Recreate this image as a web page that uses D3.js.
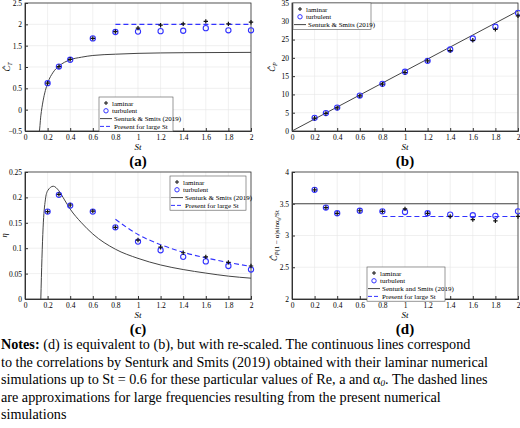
<!DOCTYPE html>
<html><head><meta charset="utf-8">
<script src="https://cdn.jsdelivr.net/npm/d3@7"></script>
<style>body{margin:0;background:#fff}svg text{font-family:"Liberation Serif","DejaVu Serif","Times New Roman",Times,serif}</style>
</head><body>
<svg id="c" width="520" height="428" font-family="Liberation Serif, DejaVu Serif, serif"></svg>
<script>
const St = [0.2,0.3,0.4,0.6,0.8,1.0,1.2,1.4,1.6,1.8,2.0];
const ctLam = [0.62,1.01,1.18,1.67,1.83,1.91,1.98,2.01,2.07,2.01,2.05];
const ctTurb = [0.62,1.01,1.17,1.67,1.82,1.83,1.84,1.85,1.91,1.86,1.86];
const ctSS = [[0.118,-0.5],[0.125,-0.52],[0.14,-0.145],[0.16,0.206],[0.18,0.446],[0.2,0.62],[0.25,0.88],[0.3,1.02],[0.4,1.17],[0.5,1.23],[0.6,1.27],[0.8,1.30],[1.0,1.32],[1.4,1.335],[2.0,1.343]];
const ctDash = [[0.8,2.0],[2.0,2.0]];
const cpLam = [3.5,4.8,6.3,9.6,12.8,16.0,19.2,22.0,24.8,27.8,31.5];
const cpTurb = [3.6,4.9,6.4,9.7,12.9,16.2,19.2,22.3,25.3,28.5,32.3];
const cpSS = [[0,0],[2,32.8]];
const etaLam = [0.172,0.206,0.185,0.173,0.141,0.116,0.102,0.091,0.083,0.072,0.065];
const etaTurb = [0.172,0.205,0.184,0.172,0.141,0.113,0.096,0.083,0.074,0.065,0.058];
const etaSS = [[0.14,0],[0.15,0.08],[0.16,0.14],[0.18,0.195],[0.2,0.213],[0.25,0.222],[0.3,0.213],[0.35,0.195],[0.4,0.177],[0.5,0.15],[0.6,0.128],[0.8,0.098],[1,0.080],[1.2,0.067],[1.4,0.058],[1.6,0.051],[1.8,0.045],[2,0.041]];
const etaDash = [[0.8,0.157],[1,0.127],[1.2,0.107],[1.4,0.092],[1.6,0.081],[1.8,0.072],[2,0.064]];
const dLam = [3.72,3.44,3.35,3.39,3.38,3.42,3.35,3.30,3.25,3.23,3.30];
const dTurb = [3.72,3.44,3.35,3.39,3.38,3.37,3.35,3.33,3.32,3.31,3.38];
const dSS = [[0,3.5],[2,3.5]];
const dDash = [[0.8,3.3],[2,3.3]];
const xTicks = [0,0.2,0.4,0.6,0.8,1,1.2,1.4,1.6,1.8,2];

const svg = d3.select("#c");
const BLUE="#3333ff";
function panel(o){
  const g=svg.append("g");
  const x=d3.scaleLinear().domain([0,2]).range([o.x0,o.x1]);
  const y=d3.scaleLinear().domain(o.yd).range([o.y1,o.y0]);
  g.selectAll(".gx").data(xTicks).join("line").attr("x1",d=>x(d)).attr("x2",d=>x(d)).attr("y1",o.y0).attr("y2",o.y1).attr("stroke","#e6e6e6").attr("stroke-width",0.6);
  g.selectAll(".gy").data(o.yt).join("line").attr("y1",d=>y(d)).attr("y2",d=>y(d)).attr("x1",o.x0).attr("x2",o.x1).attr("stroke","#e6e6e6").attr("stroke-width",0.6);
  const ax=g.append("g").attr("transform",`translate(0,${o.y1})`).call(d3.axisBottom(x).tickValues(xTicks).tickFormat(d3.format("~g")).tickSize(-3).tickPadding(4));
  const ay=g.append("g").attr("transform",`translate(${o.x0},0)`).call(d3.axisLeft(y).tickValues(o.yt).tickFormat(d3.format("~g")).tickSize(-3).tickPadding(3));
  [ax,ay].forEach(a=>{a.attr("font-family",null);a.selectAll("text").attr("font-size",7.5);a.select(".domain").attr("stroke","#333");a.selectAll("line").attr("stroke","#333");});
  g.append("rect").attr("x",o.x0).attr("y",o.y0).attr("width",o.x1-o.x0).attr("height",o.y1-o.y0).attr("fill","none").attr("stroke","#333").attr("stroke-width",0.8);
  const clip="cl"+o.id;
  svg.append("clipPath").attr("id",clip).append("rect").attr("x",o.x0).attr("y",o.y0).attr("width",o.x1-o.x0).attr("height",o.y1-o.y0);
  const line=d3.line().x(d=>x(d[0])).y(d=>y(d[1])).curve(d3.curveMonotoneX);
  g.append("path").attr("clip-path",`url(#${clip})`).attr("d",line(o.ss)).attr("fill","none").attr("stroke","#444").attr("stroke-width",1);
  if(o.dash) g.append("path").attr("d",line(o.dash)).attr("fill","none").attr("stroke",BLUE).attr("stroke-width",1.1).attr("stroke-dasharray","5,3");
  g.selectAll(".t").data(St).join("circle").attr("cx",d=>x(d)).attr("cy",(d,i)=>y(o.turb[i])).attr("r",2.6).attr("fill","none").attr("stroke",BLUE).attr("stroke-width",1.1);
  g.selectAll(".l").data(St).join("path").attr("transform",(d,i)=>`translate(${x(d)},${y(o.lam[i])})`).attr("d","M-2.2,0H2.2M0,-2.2V2.2").attr("stroke","#111").attr("stroke-width",1.2);
  g.append("text").attr("x",(o.x0+o.x1)/2).attr("y",o.y1+19).attr("text-anchor","middle").attr("font-size",9).attr("font-style","italic").text("St");
  const yl=g.append("text").attr("transform",`translate(${o.x0-o.ylOff},${(o.y0+o.y1)/2}) rotate(-90)`).attr("text-anchor","middle").attr("font-size",8.5);
  o.ylab(yl);
  g.append("text").attr("x",(o.x0+o.x1)/2).attr("y",o.y1+35).attr("text-anchor","middle").attr("font-size",15).attr("font-weight","bold").text(o.lbl);
  const L=o.leg, items=o.legItems;
  g.append("rect").attr("x",L[0]).attr("y",L[1]).attr("width",L[2]).attr("height",items.length*7.8+3).attr("fill","#fff").attr("stroke","#555").attr("stroke-width",0.6);
  items.forEach((it,i)=>{
    const yy=L[1]+6+i*7.8, xx=L[0]+7;
    if(it.t=="l") g.append("path").attr("d",`M${xx-2},${yy}H${xx+2}M${xx},${yy-2}V${yy+2}`).attr("stroke","#111");
    if(it.t=="c") g.append("circle").attr("cx",xx).attr("cy",yy).attr("r",2.2).attr("fill","none").attr("stroke",BLUE);
    if(it.t=="s") g.append("line").attr("x1",xx-6).attr("x2",xx+6).attr("y1",yy).attr("y2",yy).attr("stroke","#444");
    if(it.t=="d") g.append("line").attr("x1",xx-6).attr("x2",xx+6).attr("y1",yy).attr("y2",yy).attr("stroke",BLUE).attr("stroke-dasharray","4,2");
    g.append("text").attr("x",xx+(it.t=="s"||it.t=="d"?8:6)).attr("y",yy+2.5).attr("font-size",7).text(it.s);
  });
}
const leg4=(nm)=>[{t:"l",s:"laminar"},{t:"c",s:"turbulent"},{t:"s",s:nm},{t:"d",s:"Present for large St"}];
function hatC(t,sub){t.append("tspan").text("Ĉ").attr("font-style","italic");t.append("tspan").attr("dy",2).attr("font-size",6).attr("font-style","italic").text(sub);t.append("tspan").attr("dy",-2).text("");}
panel({id:"a",x0:25,x1:251,y0:3,y1:131,yd:[-0.5,2.5],yt:[-0.5,0,0.5,1,1.5,2,2.5],turb:ctTurb,lam:ctLam,ss:ctSS,dash:ctDash,lbl:"(a)",ylOff:15,
  ylab:t=>hatC(t,"T"),leg:[99,97,74],legItems:leg4("Senturk & Smits (2019)")});
panel({id:"b",x0:292,x1:518,y0:3,y1:131,yd:[0,35],yt:[0,5,10,15,20,25,30,35],turb:cpTurb,lam:cpLam,ss:cpSS,lbl:"(b)",ylOff:17,
  ylab:t=>hatC(t,"P"),leg:[293,3,78],legItems:leg4("Senturk & Smits (2019)").slice(0,3)});
panel({id:"c",x0:25,x1:251,y0:172,y1:299,yd:[0,0.25],yt:[0,0.05,0.1,0.15,0.2,0.25],turb:etaTurb,lam:etaLam,ss:etaSS,dash:etaDash,lbl:"(c)",ylOff:18,
  ylab:t=>t.attr("font-style","italic").text("η"),leg:[170,176,76],legItems:leg4("Senturk & Smits (2019)")});
panel({id:"d",x0:292,x1:518,y0:172,y1:299,yd:[2,4],yt:[2,2.5,3,3.5,4],turb:dTurb,lam:dLam,ss:dSS,dash:dDash,lbl:"(d)",ylOff:15,
  ylab:t=>{hatC(t,"P");t.append("tspan").attr("font-size",7).text("(1 − α)sinα");t.append("tspan").attr("dy",1.5).attr("font-size",5).text("0");t.append("tspan").attr("dy",-1.5).attr("font-size",7).text("/St");},
  leg:[367,267,78],legItems:leg4("Senturk and Smits (2019)")});
const notes=["<tspan font-weight='bold'>Notes:</tspan> (d) is equivalent to (b), but with   re-scaled. The continuous lines correspond",
"to the correlations by Senturk and Smits (2019) obtained with their laminar numerical",
"simulations up to St = 0.6 for these particular values of Re, a and α<tspan dy='2' font-size='9' font-style='italic'>0</tspan><tspan dy='-2'>. The dashed lines</tspan>",
"are approximations for large frequencies resulting from the present numerical",
"simulations"];
notes.forEach((s,i)=>svg.append("text").attr("x",1).attr("y",349+i*17.6).attr("font-size",14.2).html(s));
</script>
</body></html>
